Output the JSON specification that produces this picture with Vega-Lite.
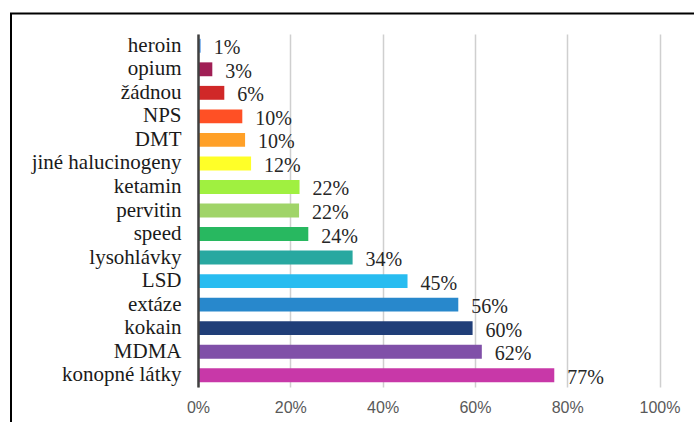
{
  "$schema": "https://vega.github.io/schema/vega-lite/v6.json",
  "width": 461.5,
  "height": 353,
  "padding": {"left": 10, "top": 12, "right": 0, "bottom": 0},
  "background": "white",
  "config": {"view": {"stroke": null}},
  "layer": [
    {
      "data": {"values": [{}]},
      "mark": {"type": "rect", "filled": false, "stroke": "#000000", "strokeWidth": 2, "clip": false},
      "encoding": {
        "x": {
          "datum": -40.52, "type": "quantitative", "scale": {"domain": [0, 100], "nice": false},
          "axis": {
            "title": null, "values": [0, 20, 40, 60, 80, 100], "labelExpr": "datum.value + '%'",
            "domain": false, "ticks": false, "grid": true, "gridColor": "#cfcfcf", "gridWidth": 1.5,
            "labelFont": "Liberation Sans, Arial, sans-serif", "labelFontSize": 16, "labelColor": "#595959",
            "labelPadding": 12, "labelFlush": false, "zindex": 0
          }
        },
        "x2": {"datum": 115},
        "y": {"datum": 1.058, "type": "quantitative", "scale": {"domain": [0, 1], "nice": false, "zero": false}, "axis": null},
        "y2": {"datum": -0.2}
      }
    },
    {
      "data": {
        "values": [
          {"drug": "heroin", "value": 0.6, "label": "1%"},
          {"drug": "opium", "value": 3.1, "label": "3%"},
          {"drug": "žádnou", "value": 5.7, "label": "6%"},
          {"drug": "NPS", "value": 9.6, "label": "10%"},
          {"drug": "DMT", "value": 10.2, "label": "10%"},
          {"drug": "jiné halucinogeny", "value": 11.5, "label": "12%"},
          {"drug": "ketamin", "value": 22.0, "label": "22%"},
          {"drug": "pervitin", "value": 21.9, "label": "22%"},
          {"drug": "speed", "value": 23.9, "label": "24%"},
          {"drug": "lysohlávky", "value": 33.5, "label": "34%"},
          {"drug": "LSD", "value": 45.4, "label": "45%"},
          {"drug": "extáze", "value": 56.4, "label": "56%"},
          {"drug": "kokain", "value": 59.5, "label": "60%"},
          {"drug": "MDMA", "value": 61.5, "label": "62%"},
          {"drug": "konopné látky", "value": 77.2, "label": "77%"}
        ]
      },
      "encoding": {
        "y": {
          "field": "drug", "type": "nominal", "sort": null,
          "scale": {"paddingInner": 0.41, "paddingOuter": 0.205},
          "axis": {
            "title": null, "ticks": false, "domain": true, "domainColor": "#404040", "domainWidth": 2.5,
            "labelFont": "Liberation Serif, Times New Roman, serif", "labelFontSize": 21, "labelColor": "#1a1a1a",
            "labelPadding": 17, "grid": false, "zindex": 1
          }
        },
        "x": {
          "field": "value", "type": "quantitative",
          "scale": {"domain": [0, 100], "nice": false},
          "axis": {
            "title": null, "values": [0, 20, 40, 60, 80, 100], "labelExpr": "datum.value + '%'",
            "domain": false, "ticks": false, "grid": true, "gridColor": "#cfcfcf", "gridWidth": 1.5,
            "labelFont": "Liberation Sans, Arial, sans-serif", "labelFontSize": 16, "labelColor": "#595959",
            "labelPadding": 12, "labelFlush": false, "zindex": 0
          }
        }
      },
      "layer": [
        {
          "mark": {"type": "bar"},
          "encoding": {
            "color": {
              "field": "drug", "type": "nominal", "legend": null,
              "scale": {
                "domain": ["heroin", "opium", "žádnou", "NPS", "DMT", "jiné halucinogeny", "ketamin", "pervitin", "speed", "lysohlávky", "LSD", "extáze", "kokain", "MDMA", "konopné látky"],
                "range": ["#6aa6e8", "#a01f55", "#d02828", "#ff5025", "#ffa028", "#ffff28", "#a0f040", "#a0d468", "#28b860", "#28a8a0", "#28bcf0", "#2888cc", "#203e78", "#8050a8", "#c838a8"]
              }
            }
          }
        },
        {
          "mark": {"type": "text", "align": "left", "baseline": "middle", "dx": 13, "dy": 2.5, "font": "Liberation Serif, Times New Roman, serif", "fontSize": 20, "color": "#262626"},
          "encoding": {"text": {"field": "label"}}
        }
      ]
    }
  ],
  "resolve": {"scale": {"y": "independent"}}
}
